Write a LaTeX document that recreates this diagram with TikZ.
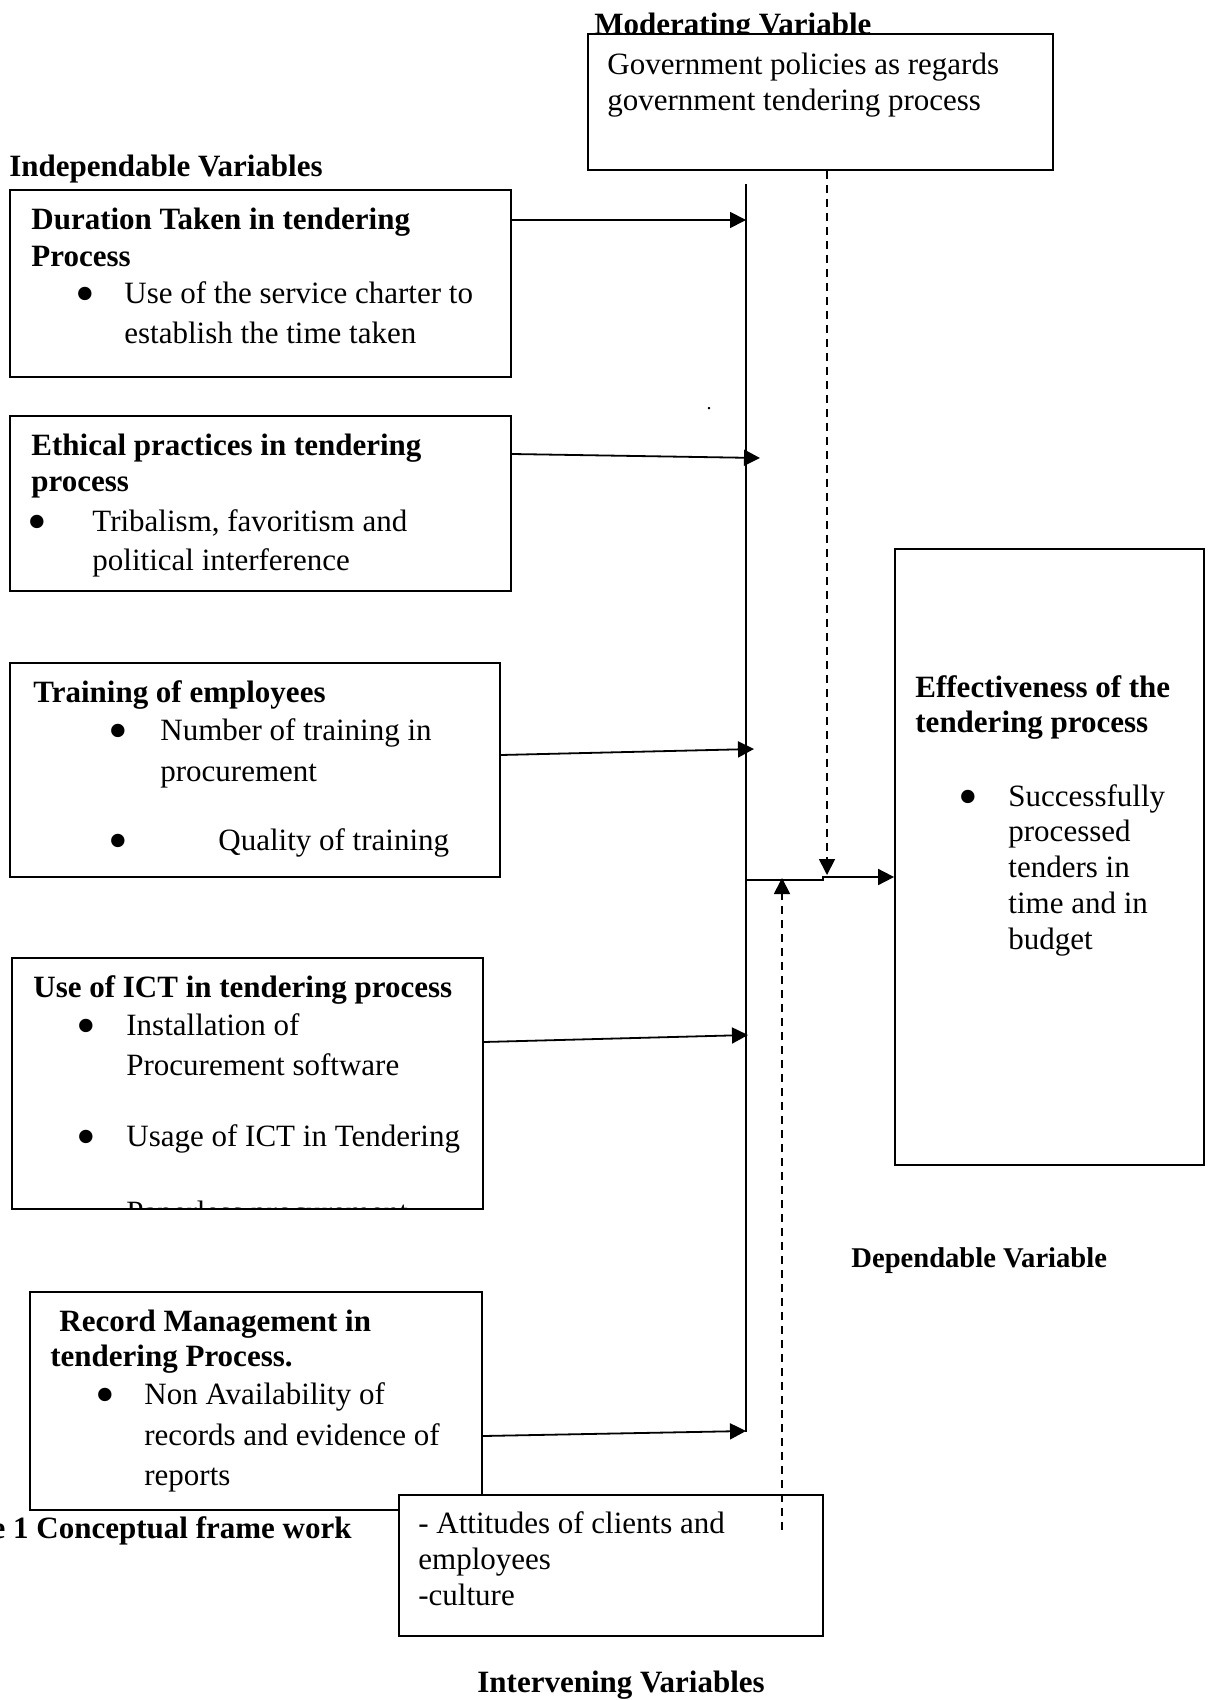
\documentclass[tikz,border=0pt]{standalone}
\usepackage{fontspec}
\setmainfont{Liberation Serif}
\usetikzlibrary{arrows.meta,fit}

\tikzset{
  box/.style={draw, line width=0.9pt, inner sep=0pt, fill=white},
  ln/.style={anchor=base west, inner sep=0pt, font=\fontsize{15.5}{18}\selectfont},
  hd/.style={anchor=base west, inner sep=0pt, font=\fontsize{15.5}{18}\selectfont\bfseries},
  bul/.style={anchor=base, inner sep=0pt, font=\fontsize{28}{28}\selectfont},
  arr/.style={line width=0.9pt, -{Triangle[length=8pt,width=8pt]}},
  dsh/.style={arr, dash pattern=on 4pt off 3pt}
}

\begin{document}
\begin{tikzpicture}[x=0.5pt, y=-0.5pt]
\useasboundingbox (0,0) rectangle (1215,1700);

% moderating variable
\node[hd] (modt) at (594,35) {Moderating Variable};
\node[box, fit={(588,34) (1053,170)}] (mod) {};
\node[ln] (gov1) at (607,75) {Government policies as regards};
\node[ln] (gov2) at (607,111) {government tendering process};

% independable variables
\node[hd] (indt) at (9,177) {Independable Variables};

% duration (bullet base a little under the text baseline)
\node[box, fit={(10,190) (511,377)}] (dur) {};
\node[hd] (dur1) at (31,230) {Duration Taken in tendering};
\node[hd] (dur2) at (31,267) {Process};
\node[bul] (durb) at (85,313) {\textbullet};
\node[ln] (dur3) at (124,304) {Use of the service charter to};
\node[ln] (dur4) at (124,344) {establish the time taken};

% ethical practices
\node[box, fit={(10,416) (511,591)}] (eth) {};
\node[hd] (eth1) at (31,456) {Ethical practices in tendering};
\node[hd] (eth2) at (31,491) {process};
\node[bul] (ethb) at (37,540) {\textbullet};
\node[ln] (eth3) at (92,531) {Tribalism, favoritism and};
\node[ln] (eth4) at (92,570) {political interference};

% training
\node[box, fit={(10,663) (500,877)}] (trn) {};
\node[hd] (trn1) at (33,702) {Training of employees};
\node[bul] (trnb1) at (118,749) {\textbullet};
\node[ln] (trn2) at (160,740) {Number of training in};
\node[ln] (trn3) at (160,781) {procurement};
\node[bul] (trnb2) at (118,859) {\textbullet};
\node[ln] (trn4) at (218,850) {Quality of training};

% ICT
\node[box, fit={(12,958) (483,1209)}] (ict) {};
\node[hd] (ict1) at (33,997) {Use of ICT in tendering process};
\node[bul] (ictb1) at (86,1044) {\textbullet};
\node[ln] (ict2) at (126,1035) {Installation of};
\node[ln] (ict3) at (126,1075) {Procurement software};
\node[bul] (ictb2) at (86,1155) {\textbullet};
\node[ln] (ict4) at (126,1146) {Usage of ICT in Tendering};
\begin{scope}
\clip (ict.south west) rectangle (ict.north east);
\node[ln] (ict5) at (126,1222) {Paperless procurement};
\end{scope}

% record management
\node[box, fit={(30,1292) (482,1510)}] (rec) {};
\node[hd] (rec1) at (59,1331) {Record Management in};
\node[hd] (rec2) at (50,1366) {tendering Process.};
\node[bul] (recb) at (105,1413) {\textbullet};
\node[ln] (rec3) at (144,1404) {Non Availability of};
\node[ln] (rec4) at (144,1445) {records and evidence of};
\node[ln] (rec5) at (144,1485) {reports};

\node[hd, anchor=base east] (fig) at (352,1538) {e 1 Conceptual frame work};

% intervening variables
\node[box, fit={(399,1495) (823,1636)}] (itv) {};
\node[ln] (itv1) at (418,1533) {- Attitudes of clients and};
\node[ln] (itv2) at (418,1569) {employees};
\node[ln] (itv3) at (418,1605) {-culture};
\node[hd] (itvt) at (477,1692) {Intervening Variables};

% dependable variable
\node[box, fit={(895,549) (1204,1165)}] (eff) {};
\node[hd] (eff1) at (915,697) {Effectiveness of the};
\node[hd] (eff2) at (915,732) {tendering process};
\node[bul] (effb) at (968,815) {\textbullet};
\node[ln] (eff3) at (1008,806) {Successfully};
\node[ln] (eff4) at (1008,841) {processed};
\node[ln] (eff5) at (1008,877) {tenders in};
\node[ln] (eff6) at (1008,913) {time and in};
\node[ln] (eff7) at (1008,949) {budget};
\node[hd, font=\fontsize{14.3}{17}\selectfont\bfseries] (dept) at (851,1267) {Dependable Variable};

\node[anchor=base, inner sep=0pt] (dot) at (709,410) {.};

% collecting line
\coordinate (top) at (746,184);
\coordinate (bot) at (746,1432);
\draw[line width=0.9pt] (top) -- (bot);

% arrows into the line
\coordinate (a1) at (746,220);
\coordinate (a2) at (760,458);
\coordinate (a3) at (754,749);
\coordinate (a4) at (748,1035);
\coordinate (a5) at (746,1431);
\draw[arr] (dur.east |- a1) -- (a1);
\draw[arr] (eth.east |- 0,454) -- (a2);
\draw[arr] (trn.east |- 0,755) -- (a3);
\draw[arr] (ict.east |- 0,1042) -- (a4);
\draw[arr] (rec.east |- 0,1436) -- (a5);

% arrow to dependable variable
\coordinate (out) at (746,880);
\coordinate (kink) at (823,880);
\coordinate (tip) at (eff.west |- 0,877);
\draw[arr] (out) -- (kink) -- (kink |- tip) -- (tip);

% dashed arrows
\coordinate (m1) at (827,875);
\draw[dsh] (mod.south -| m1) -- (m1);
\coordinate (i0) at (782,1530);
\coordinate (i1) at (782,878);
\draw[dsh] (i0) -- (i1);

\end{tikzpicture}
\end{document}
